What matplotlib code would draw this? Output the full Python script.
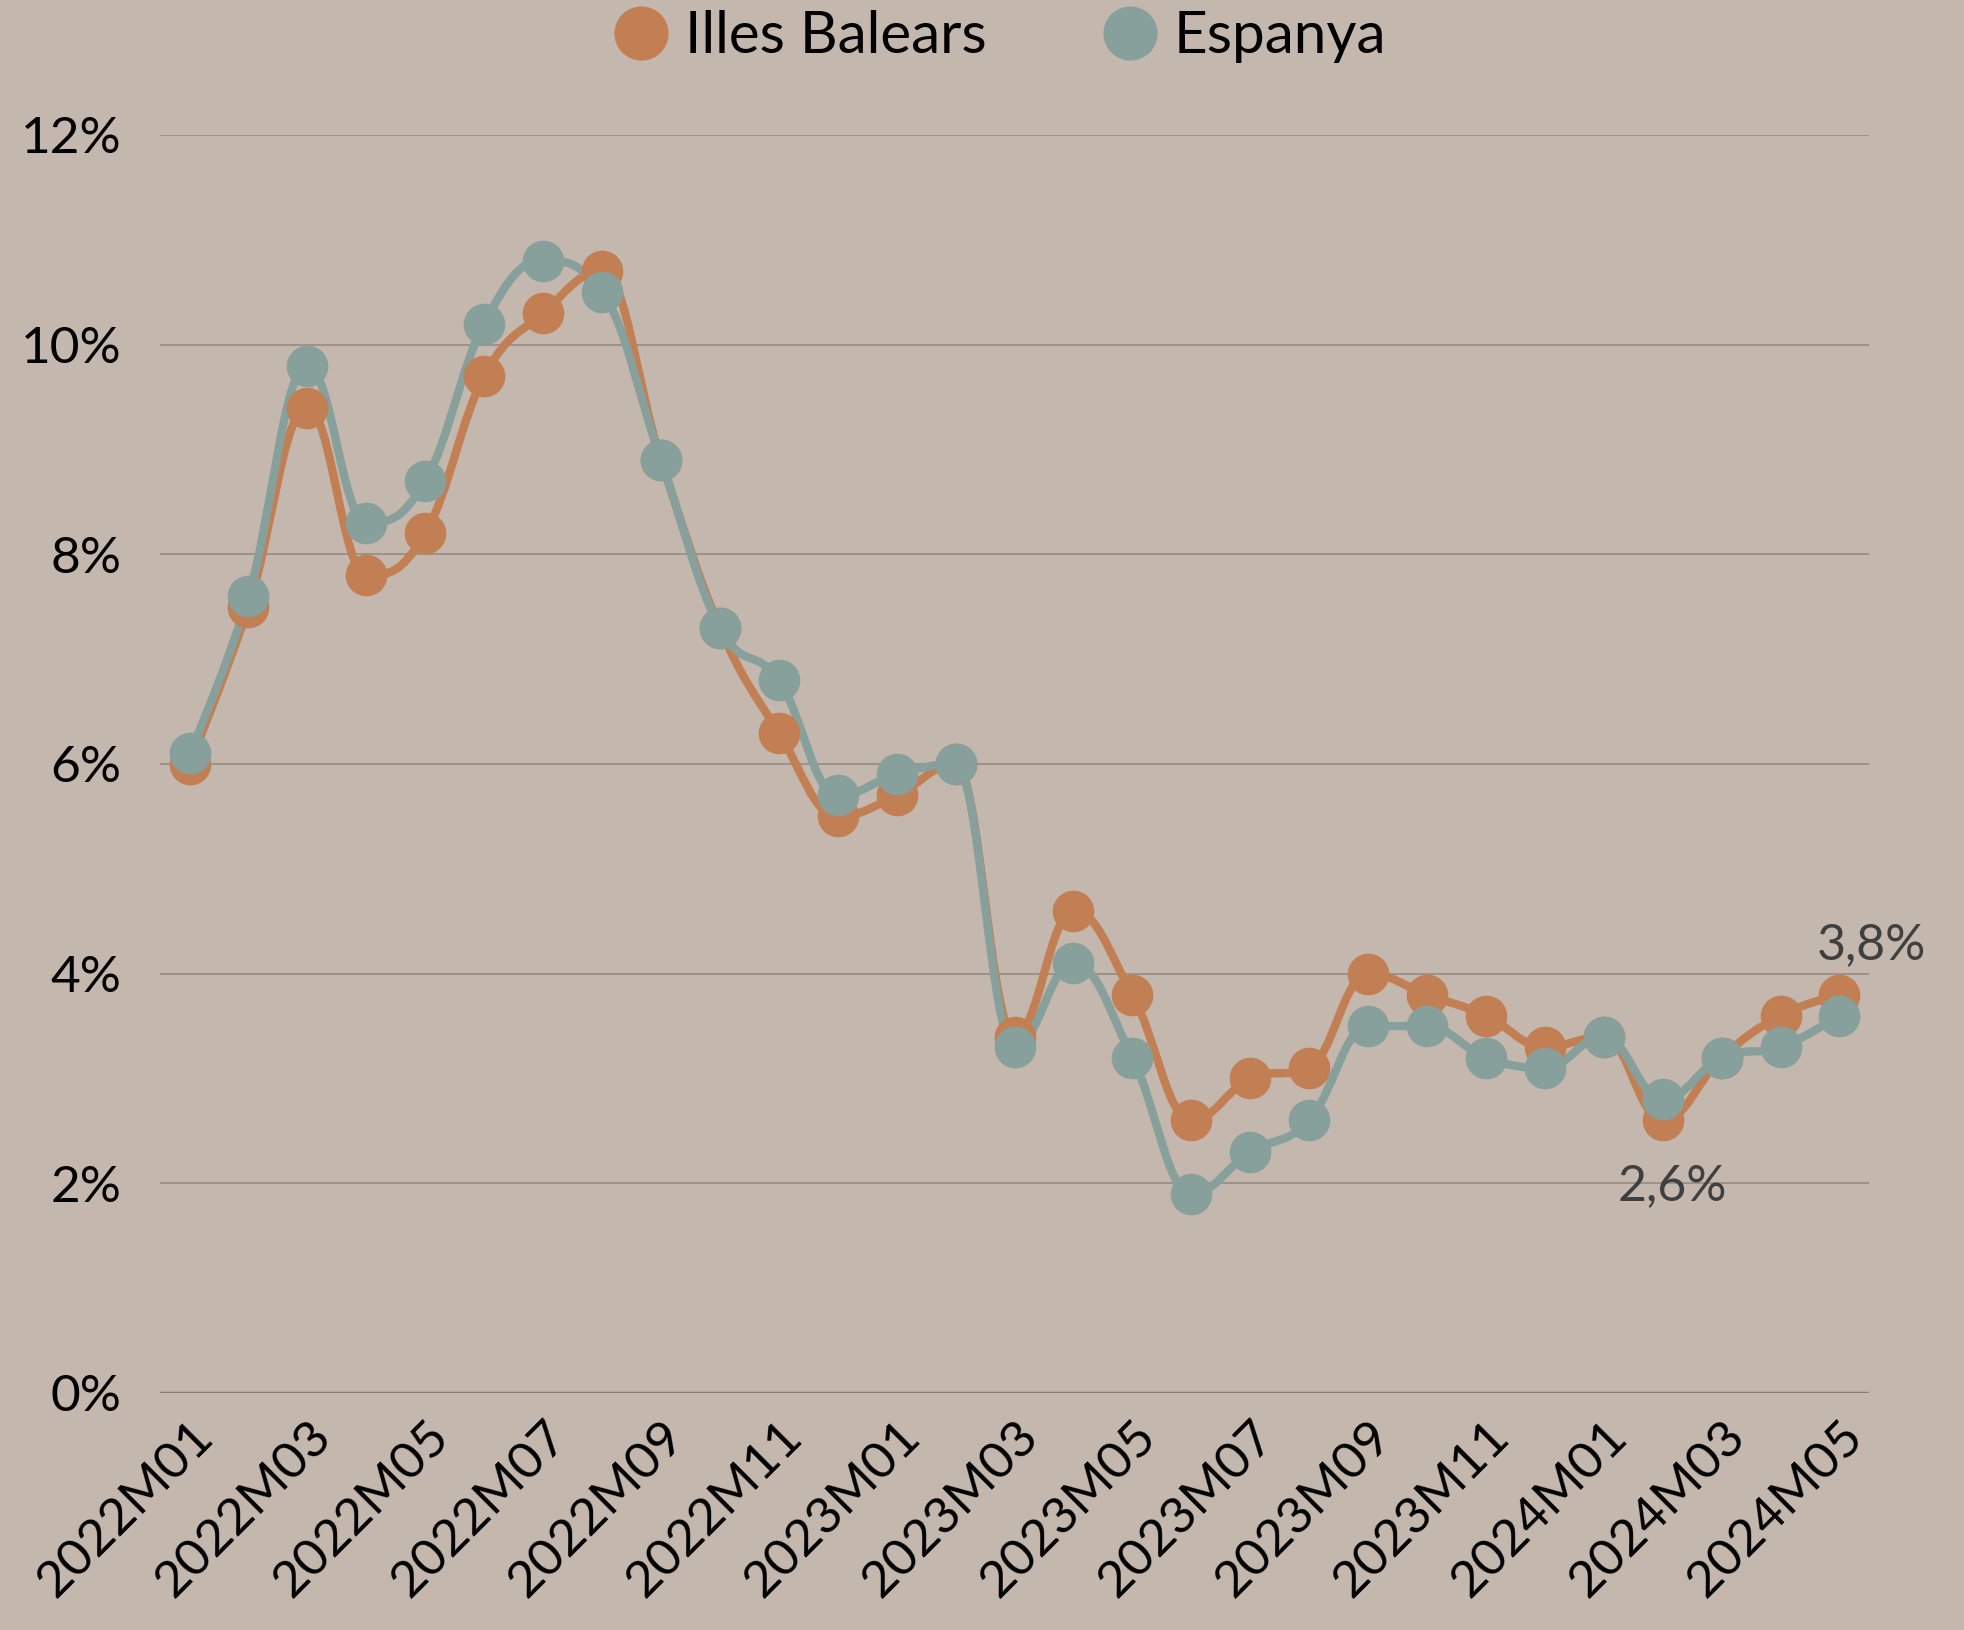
import matplotlib.pyplot as plt
from matplotlib.path import Path
from matplotlib.patches import PathPatch
from matplotlib.lines import Line2D

months = ["2022M01", "2022M02", "2022M03", "2022M04", "2022M05", "2022M06",
          "2022M07", "2022M08", "2022M09", "2022M10", "2022M11", "2022M12",
          "2023M01", "2023M02", "2023M03", "2023M04", "2023M05", "2023M06",
          "2023M07", "2023M08", "2023M09", "2023M10", "2023M11", "2023M12",
          "2024M01", "2024M02", "2024M03", "2024M04", "2024M05"]
balears = [6.0, 7.5, 9.4, 7.8, 8.2, 9.7, 10.3, 10.7, 8.9, 7.3, 6.3, 5.5,
           5.7, 6.0, 3.4, 4.6, 3.8, 2.6, 3.0, 3.1, 4.0, 3.8, 3.6, 3.3,
           3.4, 2.6, 3.2, 3.6, 3.8]
espanya = [6.1, 7.6, 9.8, 8.3, 8.7, 10.2, 10.8, 10.5, 8.9, 7.3, 6.8, 5.7,
           5.9, 6.0, 3.3, 4.1, 3.2, 1.9, 2.3, 2.6, 3.5, 3.5, 3.2, 3.1,
           3.4, 2.8, 3.2, 3.3, 3.6]
y_ticks = [0, 2, 4, 6, 8, 10, 12]

BG = "#c4b8ae"
ORANGE = "#c27f53"
TEAL = "#87a09c"
GRID = "#9c9088"

plt.rcParams['font.family'] = ['Lato', 'DejaVu Sans']


def spline_path(xs, ys, smoothing=1.5):
    # bezier control points, same idea as a highcharts "spline" series
    n = len(xs)
    left = [(xs[i], ys[i]) for i in range(n)]
    right = [(xs[i], ys[i]) for i in range(n)]
    d = smoothing + 1
    for i in range(1, n - 1):
        px, py = xs[i], ys[i]
        lx, ly = xs[i - 1], ys[i - 1]
        nx, ny = xs[i + 1], ys[i + 1]
        lcx = (smoothing * px + lx) / d
        lcy = (smoothing * py + ly) / d
        rcx = (smoothing * px + nx) / d
        rcy = (smoothing * py + ny) / d
        if rcx != lcx:
            corr = (rcy - lcy) * (rcx - px) / (rcx - lcx) + py - rcy
            lcy += corr
            rcy += corr
        if lcy > ly and lcy > py:
            lcy = max(ly, py)
            rcy = 2 * py - lcy
        elif lcy < ly and lcy < py:
            lcy = min(ly, py)
            rcy = 2 * py - lcy
        if rcy > ny and rcy > py:
            rcy = max(ny, py)
            lcy = 2 * py - rcy
        elif rcy < ny and rcy < py:
            rcy = min(ny, py)
            lcy = 2 * py - rcy
        left[i] = (lcx, lcy)
        right[i] = (rcx, rcy)
    verts = [(xs[0], ys[0])]
    codes = [Path.MOVETO]
    for i in range(1, n):
        verts += [right[i - 1], left[i], (xs[i], ys[i])]
        codes += [Path.CURVE4] * 3
    return Path(verts, codes)


fig = plt.figure(figsize=(19.64, 16.30), dpi=100, facecolor=BG)
ax = fig.add_axes([0.0815, 0.1454, 0.8701, 0.7718])
ax.set_facecolor(BG)

x = list(range(len(months)))
for vals, col in [(balears, ORANGE), (espanya, TEAL)]:
    ax.add_patch(PathPatch(spline_path(x, vals), fill=False, edgecolor=col,
                           lw=6, capstyle='round', joinstyle='round'))
    ax.plot(x, vals, ls='none', marker='o', ms=29, color=col, mec=col)

ax.set_xlim(-0.5, len(months) - 0.5)
ax.set_ylim(0, 12)
ax.set_yticks(y_ticks)
ax.set_yticklabels([f"{v}%" for v in y_ticks])
for v in y_ticks:
    ax.axhline(v, color=GRID if v else "#8a7f78", lw=1.4 if v else 2.5, zorder=0)

ax.set_xticks(x[::2])
ax.set_xticklabels(months[::2], rotation=45, ha='right', rotation_mode='anchor')
ax.tick_params(axis='both', length=0, labelsize=37, colors='black')
ax.tick_params(axis='y', pad=28)
ax.tick_params(axis='x', pad=14)
for s in ax.spines.values():
    s.set_visible(False)

ax.annotate("3,8%", (x[-1], balears[-1]), xytext=(23, 19), textcoords='offset points',
            ha='center', va='bottom', fontsize=36, color='#3f3f3f')
ax.annotate("2,6%", (x[25], balears[25]), xytext=(7, -31), textcoords='offset points',
            ha='center', va='top', fontsize=36, color='#3f3f3f')

handles = [Line2D([], [], ls='none', marker='o', ms=38, color=ORANGE),
           Line2D([], [], ls='none', marker='o', ms=38, color=TEAL)]
fig.legend(handles, ["Illes Balears", "Espanya"], loc='upper center',
           bbox_to_anchor=(0.508, 1.026), ncol=2, frameon=False, fontsize=42,
           handletextpad=0.2, columnspacing=1.9, handlelength=1.1)

fig.savefig("out.png", dpi=100, facecolor=BG)
